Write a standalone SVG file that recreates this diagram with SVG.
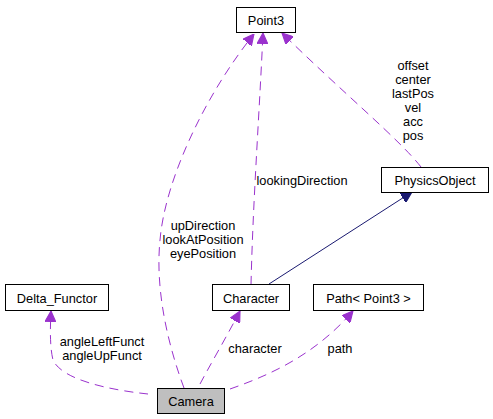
<svg xmlns="http://www.w3.org/2000/svg" width="493" height="419" viewBox="0 0 493 419">
<style>
.node rect{fill:#ffffff;stroke:#000000;stroke-width:1}
.node.cur rect{fill:#bfbfbf}
text{font-family:"Liberation Sans",Arial,sans-serif;font-size:12.8px;fill:#000000;text-anchor:middle}
.e{fill:none;stroke:#9a32cd;stroke-width:1;stroke-dasharray:9,6}
.inh{fill:none;stroke:#191970;stroke-width:1}
</style>
<defs>
<marker id="ap" viewBox="0 0 10 10" refX="10" refY="5" markerWidth="11" markerHeight="11" markerUnits="userSpaceOnUse" orient="auto">
<path d="M0,0 L10,5 L0,10 Z" fill="#9a32cd" stroke="#9a32cd"/>
</marker>
<marker id="an" viewBox="0 0 10 10" refX="10" refY="5" markerWidth="11" markerHeight="11" markerUnits="userSpaceOnUse" orient="auto">
<path d="M0,0 L10,5 L0,10 Z" fill="#191970" stroke="#191970"/>
</marker>
</defs>
<rect width="493" height="419" fill="#ffffff"/>
<g id="connectors">
<path class="e" d="M184,388 C168,345 155,290 160,240 C165,180 205,95 254,34" marker-end="url(#ap)"/>
<path class="e" d="M251,285 C253,200 259,120 263,33" marker-end="url(#ap)"/>
<path class="e" d="M421,167 C400,140 340,90 282,33" marker-end="url(#ap)"/>
<path class="inh" d="M269,284 L412,192" marker-end="url(#an)"/>
<path class="e" d="M148,394 C110,390 62,380 53,360 C50,348 50,330 51,311" marker-end="url(#ap)"/>
<path class="e" d="M200,384 C210,365 222,345 240,311" marker-end="url(#ap)"/>
<path class="e" d="M230,389 C270,375 315,355 353,311" marker-end="url(#ap)"/>
<text x="413" y="69.5">offset</text>
<text x="413" y="83.5">center</text>
<text x="413" y="97.5">lastPos</text>
<text x="413" y="111.5">vel</text>
<text x="413" y="125.5">acc</text>
<text x="413" y="139.5">pos</text>
<text x="302" y="184.5">lookingDirection</text>
<text x="203" y="229.5">upDirection</text>
<text x="203" y="243.5">lookAtPosition</text>
<text x="203" y="257.5">eyePosition</text>
<text x="102" y="346">angleLeftFunct</text>
<text x="102" y="360">angleUpFunct</text>
<text x="255" y="353">character</text>
<text x="340" y="353">path</text>
</g>
<g id="Point3" class="node"><rect x="236.5" y="7.5" width="59" height="25"/><text x="266" y="24.5">Point3</text></g>
<g id="PhysicsObject" class="node"><rect x="381.5" y="167.5" width="107" height="25"/><text x="435" y="184.5">PhysicsObject</text></g>
<g id="Delta_Functor" class="node"><rect x="5.5" y="284.5" width="103" height="26"/><text x="57" y="303">Delta_Functor</text></g>
<g id="Character" class="node"><rect x="212.5" y="284.5" width="77" height="26"/><text x="251" y="303">Character</text></g>
<g id="Path" class="node"><rect x="313.5" y="284.5" width="110" height="26"/><text x="368.5" y="303">Path&lt; Point3 &gt;</text></g>
<g id="Camera" class="node cur"><rect x="157.5" y="388.5" width="67" height="25"/><text x="191" y="406">Camera</text></g>
</svg>
